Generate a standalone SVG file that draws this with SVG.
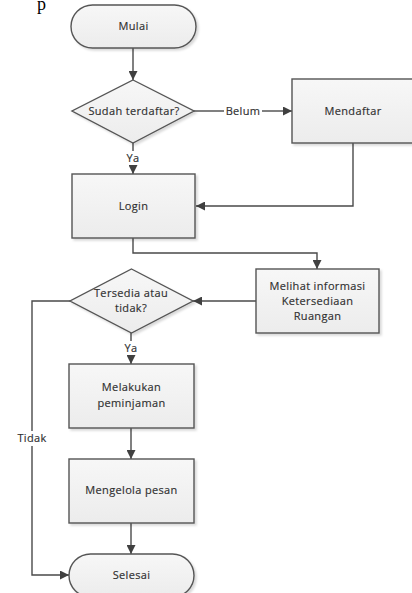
<svg xmlns="http://www.w3.org/2000/svg" width="412" height="593" viewBox="0 0 412 593">
  <style>
    .shape { fill: url(#boxFill); stroke: #555555; stroke-width: 1.4; filter: url(#shadow); }
    .label { font-family: "Open Sans", "Noto Sans", sans-serif; font-size: 11px; letter-spacing: 0.35px; fill: #2f2f2f; text-anchor: middle; stroke: #2f2f2f; stroke-width: 0.15; }
    .edge { fill: none; stroke: #4a4a4a; stroke-width: 1.4; marker-end: url(#arrow); }
    .plain { fill: none; stroke: #4a4a4a; stroke-width: 1.4; }
  </style>
  <defs>
    <linearGradient id="boxFill" x1="0" y1="0" x2="0" y2="1">
      <stop offset="0" stop-color="#f7f7f7"/>
      <stop offset="1" stop-color="#ececec"/>
    </linearGradient>
    <filter id="shadow" x="-10%" y="-10%" width="130%" height="130%">
      <feDropShadow dx="2" dy="2" stdDeviation="1.2" flood-color="#000000" flood-opacity="0.15"/>
    </filter>
    <marker id="arrow" viewBox="0 0 10 10" refX="10" refY="5" markerWidth="9" markerHeight="9" markerUnits="userSpaceOnUse" orient="auto">
      <path d="M0,0 L10,5 L0,10 z" fill="#404040"/>
    </marker>
  </defs>

  <rect width="412" height="593" fill="#ffffff"/>

  <!-- stray serif letter at the page top -->
  <text x="37" y="10" font-family="Liberation Serif, serif" font-size="18" fill="#000000">p</text>

  <!-- connectors -->
  <g id="connectors">
    <path class="edge" d="M133,48 V80"/>
    <path class="plain" d="M194,111 H224"/>
    <path class="edge" d="M262,111 H292"/>
    <text class="label" x="243" y="115">Belum</text>
    <path class="plain" d="M133,143 V151"/>
    <path class="edge" d="M133,165 V174"/>
    <text class="label" x="133" y="162">Ya</text>
    <path class="edge" d="M353,143 V206 H196"/>
    <path class="edge" d="M133,238 V253 H317 V269"/>
    <path class="edge" d="M256,301 H193"/>
    <path class="plain" d="M131,333 V341"/>
    <path class="edge" d="M131,355 V364"/>
    <text class="label" x="131" y="352">Ya</text>
    <path class="plain" d="M70,301 H32 V431"/>
    <path class="edge" d="M32,446 V575 H69"/>
    <text class="label" x="32" y="442">Tidak</text>
    <path class="edge" d="M131,428 V459"/>
    <path class="edge" d="M131,523 V554"/>
  </g>

  <g id="mulai">
    <rect class="shape" x="71" y="5" width="125" height="43" rx="21.5"/>
    <text class="label" x="133.5" y="30">Mulai</text>
  </g>

  <g id="sudah-terdaftar">
    <polygon class="shape" points="133,80 194,111 133,143 72,111"/>
    <text class="label" x="134" y="115">Sudah terdaftar?</text>
  </g>

  <g id="mendaftar">
    <rect class="shape" x="292" y="79" width="122" height="64"/>
    <text class="label" x="353" y="115">Mendaftar</text>
  </g>

  <g id="login">
    <rect class="shape" x="72" y="174" width="123" height="64"/>
    <text class="label" x="133.5" y="210">Login</text>
  </g>

  <g id="melihat-informasi">
    <rect class="shape" x="256" y="269" width="123" height="64"/>
    <text class="label" x="317.5" y="290">Melihat informasi</text>
    <text class="label" x="317.5" y="305">Ketersediaan</text>
    <text class="label" x="317.5" y="320">Ruangan</text>
  </g>

  <g id="tersedia">
    <polygon class="shape" points="131.5,269 193,301 131.5,333 70,301"/>
    <text class="label" x="131" y="297">Tersedia atau</text>
    <text class="label" x="131" y="312">tidak?</text>
  </g>

  <g id="melakukan-peminjaman">
    <rect class="shape" x="69" y="364" width="125" height="64"/>
    <text class="label" x="131.5" y="391">Melakukan</text>
    <text class="label" x="131.5" y="407">peminjaman</text>
  </g>

  <g id="mengelola-pesan">
    <rect class="shape" x="69" y="459" width="125" height="64"/>
    <text class="label" x="131.5" y="494">Mengelola pesan</text>
  </g>

  <g id="selesai">
    <rect class="shape" x="69" y="554" width="125" height="43" rx="21.5"/>
    <text class="label" x="131.5" y="579">Selesai</text>
  </g>
</svg>
